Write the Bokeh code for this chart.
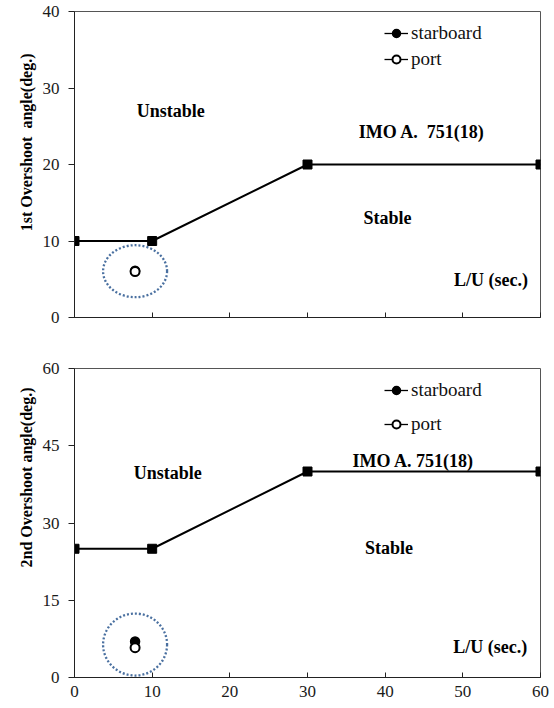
from bokeh.plotting import figure
from bokeh.layouts import column
from bokeh.models import Legend, LegendItem, Label, FixedTicker, ColumnDataSource, Title
from bokeh.embed import file_html
from bokeh.resources import INLINE

# ---- data ----
lu_crit = [0, 10, 30, 60]            # L/U (sec.) of IMO criterion breakpoints
first_crit = [10, 10, 20, 20]        # 1st overshoot limit (deg.)
second_crit = [25, 25, 40, 40]       # 2nd overshoot limit (deg.)
ship_lu = [7.8]                      # L/U of the ship (sec.)
first_starboard = [6.1]
first_port = [6.0]
second_starboard = [7.0]
second_port = [5.8]
x_ticks = [0, 10, 20, 30, 40, 50, 60]
y1_ticks = [0, 10, 20, 30, 40]
y2_ticks = [0, 15, 30, 45, 60]

SERIF = "Liberation Serif"


def make_panel(crit, stb, prt, yticks, ylabel, ylabel_offset, texts, show_xlabels,
               height, top, bottom, legend_loc, legend_spacing, ell_h):
    p = figure(width=554, height=height, x_range=(0, 60), y_range=(yticks[0], yticks[-1]),
               output_backend="svg", toolbar_location=None,
               min_border_left=74, min_border_right=14,
               min_border_top=top, min_border_bottom=bottom)
    p.grid.visible = False
    p.outline_line_color = "#555555"
    p.outline_line_width = 1
    p.background_fill_color = "white"
    p.border_fill_color = "white"

    xa = p.xaxis[0]
    xa.ticker = FixedTicker(ticks=x_ticks)
    xa.major_tick_in = 5
    xa.major_tick_out = 0
    xa.minor_tick_line_color = None
    xa.axis_line_color = "#222222"
    xa.major_tick_line_color = "#222222"
    xa.major_label_text_font = SERIF
    xa.major_label_text_color = "#1a1a1a"
    xa.major_label_standoff = 8
    if show_xlabels:
        xa.major_label_text_font_size = "17px"
    else:
        xa.major_label_text_font_size = "1px"
        xa.major_label_text_alpha = 0

    ya = p.yaxis[0]
    ya.ticker = FixedTicker(ticks=yticks)
    ya.major_tick_in = 0
    ya.major_tick_out = 6
    ya.minor_tick_line_color = None
    ya.axis_line_color = "#222222"
    ya.major_tick_line_color = "#222222"
    ya.major_label_text_font = SERIF
    ya.major_label_text_font_size = "17px"
    ya.major_label_text_color = "#1a1a1a"
    ya.major_label_standoff = 9

    # IMO criterion line
    src = ColumnDataSource(dict(x=lu_crit, y=crit))
    p.line("x", "y", source=src, line_color="black", line_width=2)
    p.scatter("x", "y", source=src, marker="square", size=9, fill_color="black",
              line_color="black")

    # dotted ellipse around the ship's result
    pts_y = stb + prt
    cx = sum(ship_lu) / len(ship_lu)
    cy = sum(pts_y) / len(pts_y)
    p.ellipse(x=[cx], y=[cy], width=64, height=ell_h, width_units="screen",
              height_units="screen", fill_color=None, line_color="#4A70A0",
              line_width=2.3, line_dash="2 2")

    s_src = ColumnDataSource(dict(x=ship_lu, y=stb))
    p_src = ColumnDataSource(dict(x=ship_lu, y=prt))
    l_s = p.line("x", "y", source=s_src, line_color="black", line_width=1.3)
    r_s = p.scatter("x", "y", source=s_src, marker="circle", size=9,
                    fill_color="black", line_color="black", line_width=1.5)
    l_p = p.line("x", "y", source=p_src, line_color="black", line_width=1.3)
    r_p = p.scatter("x", "y", source=p_src, marker="circle", size=9,
                    fill_color="white", line_color="black", line_width=2)

    legend = Legend(items=[LegendItem(label="starboard", renderers=[l_s, r_s]),
                           LegendItem(label="port", renderers=[l_p, r_p])],
                    location=legend_loc, padding=0, margin=0, spacing=legend_spacing,
                    border_line_color=None, background_fill_alpha=0,
                    glyph_width=24, glyph_height=20, label_height=20,
                    label_standoff=3, label_text_font=SERIF,
                    label_text_font_size="19px", label_text_color="#111111")
    p.add_layout(legend)

    for (tx, ty, t, align) in texts:
        p.add_layout(Label(x=tx, y=ty, text=t, text_align=align, text_baseline="middle",
                           text_font=SERIF, text_font_style="bold",
                           text_font_size="18px", text_color="black"))

    p.add_layout(Title(text=ylabel, align="right", offset=ylabel_offset,
                       text_font=SERIF, text_font_style="bold",
                       text_font_size="16px", text_color="black", standoff=10), "left")
    return p


p1 = make_panel(first_crit, first_starboard, first_port, y1_ticks,
                "1st Overshoot\u00a0 angle(deg.)", 42,
                [(12.4, 27.0, "Unstable", "center"),
                 (44.7, 24.3, "IMO A.\u00a0 751(18)", "center"),
                 (40.3, 13.0, "Stable", "center"),
                 (58.4, 4.9, "L/U (sec.)", "right")],
                False, 345, 11, 28, (310, 247), 4, 52)

p2 = make_panel(second_crit, second_starboard, second_port, y2_ticks,
                "2nd Overshoot angle(deg.)", 19,
                [(12.0, 39.7, "Unstable", "center"),
                 (43.6, 42.0, "IMO A. 751(18)", "center"),
                 (40.5, 25.2, "Stable", "center"),
                 (58.3, 5.9, "L/U (sec.)", "right")],
                True, 363, 23, 31, (310, 242), 12, 62)

layout = column(p1, p2, spacing=0)
open("out.html", "w").write(file_html(layout, INLINE))
